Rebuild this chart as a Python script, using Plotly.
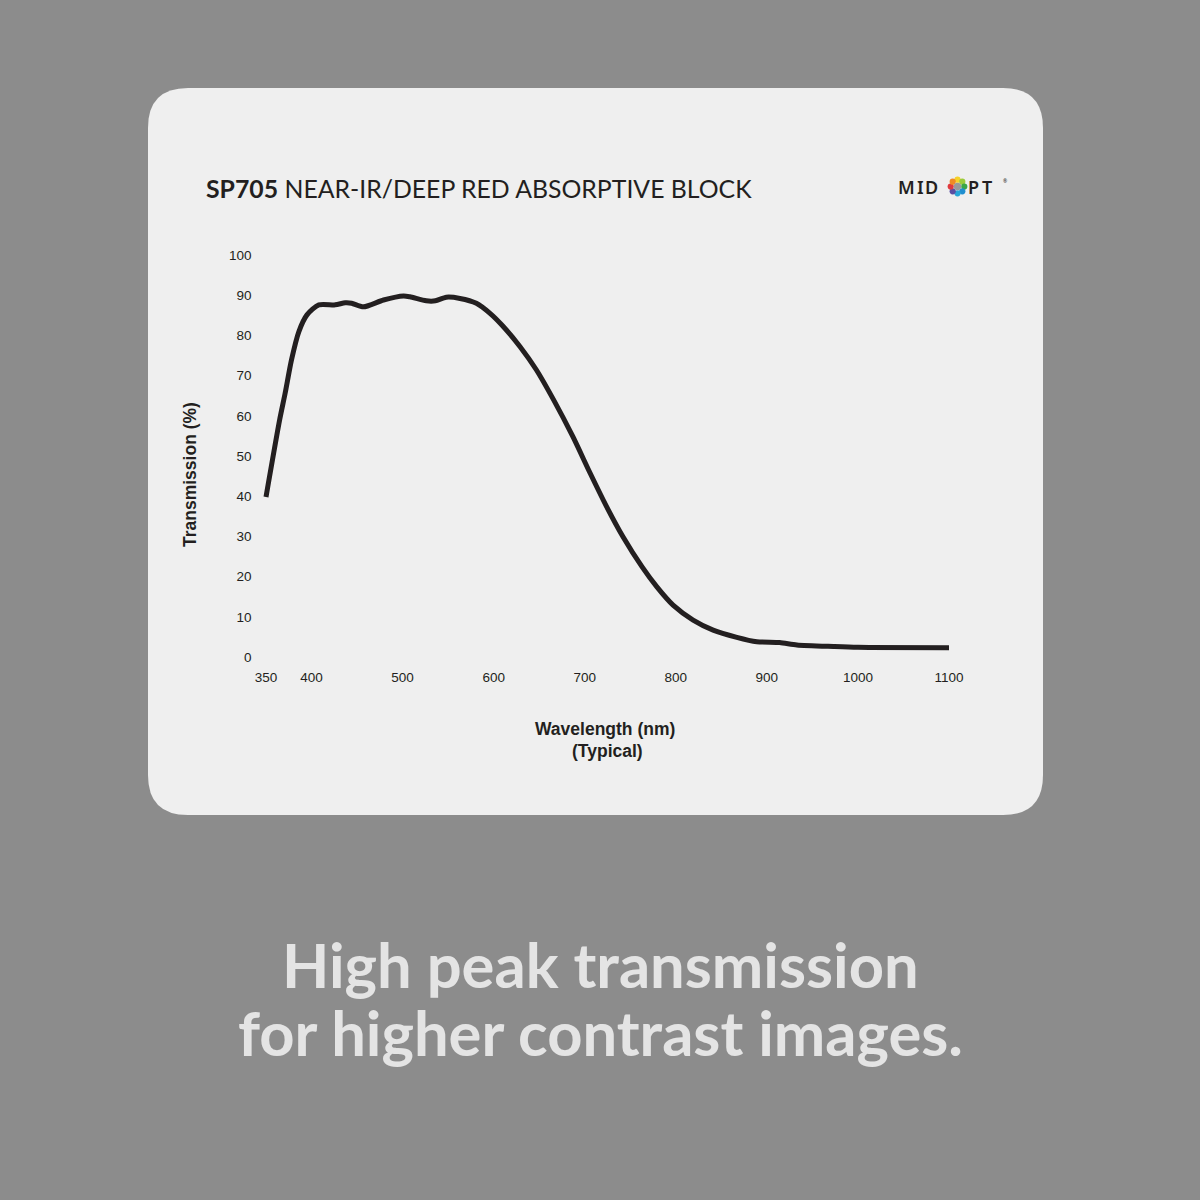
import math
import plotly.graph_objects as go

# ---- data ----
wavelength_nm = [350, 365, 371, 378, 386, 395, 408, 426, 437, 444, 457, 479, 501, 508,
                 526, 536, 548, 563, 581, 596, 609, 629, 647, 666, 687, 706, 724,
                 742, 763, 779, 797, 819, 841, 867, 889, 914, 933, 973, 1000, 1100]
transmission_pct = [39.8, 59.0, 65.6, 73.9, 80.9, 85.1, 87.6, 87.6, 88.1, 88.0, 87.1, 88.8, 89.8, 89.6,
                    88.6, 88.6, 89.5, 89.2, 88.0, 85.5, 82.6, 77.2, 71.4, 63.9, 54.8, 45.7, 37.4,
                    29.9, 22.4, 17.5, 12.9, 9.2, 6.7, 4.9, 3.8, 3.6, 3.0, 2.6, 2.4, 2.3]
x_ticks = [350, 400, 500, 600, 700, 800, 900, 1000, 1100]
y_ticks = [0, 10, 20, 30, 40, 50, 60, 70, 80, 90, 100]

W = H = 1200
BG = "#8c8c8c"
CARD = "#efefef"
INK = "#231f20"

def px(x):
    return x / W

def py(y):
    return 1 - y / H

# axis pixel mapping: 350nm -> 266px, 1100nm -> 949px ; 0% -> 657px, 100% -> 255px
xr = [345, 1105]
xs = (949 - 266) / 750.0
x0 = 266 + (xr[0] - 350) * xs
x1 = 266 + (xr[1] - 350) * xs
yr = [-2, 102]
ys = (657 - 255) / 100.0
y_bottom = 657 - (yr[0]) * ys
y_top = 657 - (yr[1]) * ys

fig = go.Figure()
fig.add_trace(go.Scatter(
    x=wavelength_nm, y=transmission_pct, mode="lines",
    line=dict(color=INK, width=5, shape="spline", smoothing=0.7),
    hoverinfo="skip", showlegend=False,
))

# rounded card
cx0, cy0, cx1, cy1, r = 148, 88, 1043, 815, 40
path = (f"M {px(cx0 + r)} {py(cy0)} L {px(cx1 - r)} {py(cy0)} "
        f"Q {px(cx1)} {py(cy0)} {px(cx1)} {py(cy0 + r)} "
        f"L {px(cx1)} {py(cy1 - r)} Q {px(cx1)} {py(cy1)} {px(cx1 - r)} {py(cy1)} "
        f"L {px(cx0 + r)} {py(cy1)} Q {px(cx0)} {py(cy1)} {px(cx0)} {py(cy1 - r)} "
        f"L {px(cx0)} {py(cy0 + r)} Q {px(cx0)} {py(cy0)} {px(cx0 + r)} {py(cy0)} Z")
shapes = [dict(type="path", path=path, xref="paper", yref="paper",
               fillcolor=CARD, line=dict(width=0), layer="below")]

# logo ring of dots
lc_x, lc_y = 957.5, 186.5
dot_colors = ["#f5d22a", "#9ccb3b", "#3aa648", "#1f8ecf", "#27a6d8", "#5b4ea2", "#e03a3e", "#f08a24"]
for i, c in enumerate(dot_colors):
    a = math.pi / 2 - i * 2 * math.pi / len(dot_colors)
    dx = 6.8 * math.cos(a)
    dy = -6.8 * math.sin(a)
    rr = 3.1
    shapes.append(dict(type="circle", xref="paper", yref="paper",
                       x0=px(lc_x + dx - rr), x1=px(lc_x + dx + rr),
                       y0=py(lc_y + dy + rr), y1=py(lc_y + dy - rr),
                       fillcolor=c, line=dict(width=0)))
shapes.append(dict(type="circle", xref="paper", yref="paper",
                   x0=px(lc_x - 3.7), x1=px(lc_x + 3.7), y0=py(lc_y + 3.7), y1=py(lc_y - 3.7),
                   fillcolor="#9a9a9a", line=dict(width=0)))

annotations = [
    dict(text="<b>SP705</b> NEAR-IR/DEEP RED ABSORPTIVE BLOCK", x=px(204), y=py(189),
         xanchor="left", yanchor="middle", showarrow=False, xref="paper", yref="paper",
         font=dict(family="Lato", size=24.8, color=INK)),
    dict(text="®", x=px(1001), y=py(181), xanchor="left", yanchor="middle", showarrow=False,
         xref="paper", yref="paper", font=dict(family="Noto Sans", size=5, color=INK)),
    dict(text="<b>Transmission (%)</b>", x=px(190), y=py(475), textangle=-90,
         xanchor="center", yanchor="middle", showarrow=False, xref="paper", yref="paper",
         font=dict(family="Liberation Sans", size=17.5, color=INK)),
    dict(text="<b>Wavelength (nm)</b>", x=px(605), y=py(729),
         xanchor="center", yanchor="middle", showarrow=False, xref="paper", yref="paper",
         font=dict(family="Liberation Sans", size=17.5, color=INK)),
    dict(text="<b>(Typical)</b>", x=px(607), y=py(751),
         xanchor="center", yanchor="middle", showarrow=False, xref="paper", yref="paper",
         font=dict(family="Liberation Sans", size=17.5, color=INK)),
    dict(text="<b>High peak transmission</b>", x=0.5, y=py(964),
         xanchor="center", yanchor="middle", showarrow=False, xref="paper", yref="paper",
         font=dict(family="Lato", size=61.5, color="#e4e4e4")),
    dict(text="<b>for higher contrast images.</b>", x=0.5, y=py(1032),
         xanchor="center", yanchor="middle", showarrow=False, xref="paper", yref="paper",
         font=dict(family="Lato", size=61.5, color="#e4e4e4")),
]
# logo letters, individually spaced
for ch, cxp in [("M", 906.5), ("I", 920), ("D", 931.5), ("P", 973.5), ("T", 987)]:
    annotations.append(dict(text=ch, x=px(cxp), y=py(187), xanchor="center", yanchor="middle",
                            showarrow=False, xref="paper", yref="paper",
                            font=dict(family="Noto Sans", size=18, color=INK, weight=600)))

fig.update_layout(
    width=W, height=H, autosize=False,
    margin=dict(l=0, r=0, t=0, b=0, pad=0, autoexpand=False),
    paper_bgcolor=BG, plot_bgcolor="rgba(0,0,0,0)",
    shapes=shapes, annotations=annotations, showlegend=False,
    xaxis=dict(domain=[x0 / W, x1 / W], range=xr, tickvals=x_ticks,
               showgrid=False, zeroline=False, showline=False, ticks="",
               ticklabelstandoff=2, automargin=False,
               tickfont=dict(family="Liberation Sans", size=13.5, color=INK)),
    yaxis=dict(domain=[1 - y_bottom / H, 1 - y_top / H], range=yr, tickvals=y_ticks,
               showgrid=False, zeroline=False, showline=False, ticks="",
               ticklabelstandoff=9, automargin=False,
               tickfont=dict(family="Liberation Sans", size=13.5, color=INK)),
)

fig.write_html("out.html", config={"displayModeBar": False},
               post_script="document.body.style.margin='0';document.body.style.overflow='hidden';")
